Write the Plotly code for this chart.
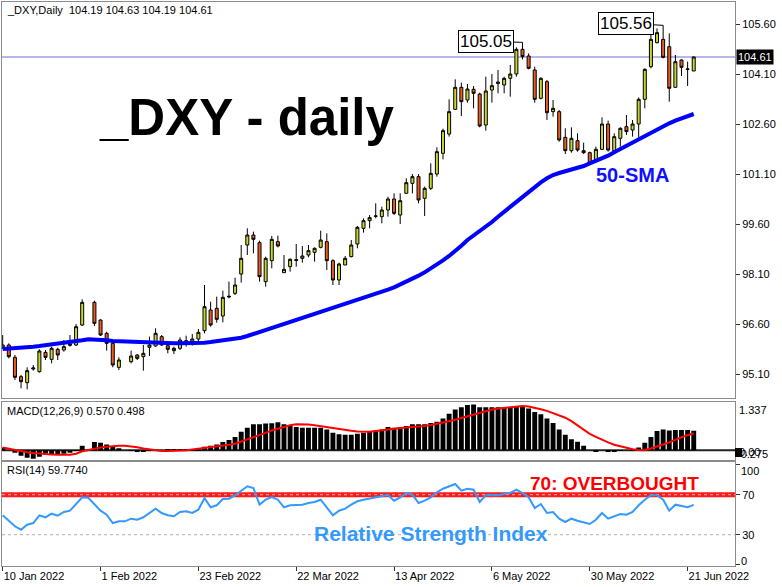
import plotly.graph_objects as go
from plotly.subplots import make_subplots

# ---------------- data ----------------
date_labels = ["10 Jan 2022", "1 Feb 2022", "23 Feb 2022", "22 Mar 2022",
               "13 Apr 2022", "6 May 2022", "30 May 2022", "21 Jun 2022"]
label_bars = [0, 16, 32, 48, 64, 80, 96, 112]

opens = [95.90, 95.97, 95.60, 95.02, 94.84, 95.25, 95.17, 95.75, 95.54, 95.84,
         95.82, 95.96, 95.97, 96.57, None, 97.25, 96.72, 96.32, 96.02, 95.30,
         None, 95.47, 95.67, 95.62, 95.90, 95.94, 96.22, 95.95, 95.80, 95.87,
         96.10, 96.00, 96.15, 96.40, 97.02, 97.07, 96.84, 97.41, 97.52, 98.10,
         98.97, 99.27, 99.04, 97.87, 98.50, 99.07, 98.14, 98.32, 98.53, 98.57,
         98.67, 98.75, 98.90, 99.07, 98.50, 97.92, 98.37, 98.62, 99.00, 99.47,
         99.70, 99.83, 99.82, 100.02, 100.35, 99.87, 100.52, 100.82, 101.02, 100.37,
         100.67, 101.10, 101.72, 102.30, 103.04, 103.70, 103.32, 103.64, 103.50, 102.57,
         103.62, 103.86, 103.77, 103.97, 104.10, 104.84, 104.64, 104.22, 103.37, 103.87,
         102.97, 102.97, 102.20, 101.80, 102.10, 101.80, 101.74, 101.50, 101.84, 102.60,
         101.80, 102.17, 102.52, 102.42, 102.60, 103.34, 104.32, 105.04, 105.14, 104.92,
         103.70, 104.52, 104.24, 104.19]
highs = [96.27, 96.02, 95.67, 95.07, 95.30, 95.37, 95.84, 95.82, 95.92, 95.89,
         96.12, 96.27, 96.60, 97.34, None, 97.30, 96.74, 96.37, 96.12, 95.60,
         None, 95.80, 95.70, 95.97, 96.22, 96.47, 96.27, 96.00, 95.92, 96.20,
         96.25, 96.30, 96.45, 97.77, 97.27, 97.42, 97.60, 97.87, 97.99, 98.97,
         99.47, 99.37, 99.10, 98.62, 99.24, 99.25, 98.67, 98.57, 99.00, 98.94,
         98.97, 98.90, 99.40, 99.32, 98.54, 98.44, 98.64, 99.12, 99.54, 99.77,
         99.87, 100.22, 100.12, 100.42, 100.52, 100.52, 100.97, 101.10, 101.10, 100.72,
         101.42, 101.90, 102.46, 103.34, 103.94, 103.84, 103.80, 103.74, 103.54, 104.02,
         104.10, 104.22, 104.02, 104.37, 104.90, 105.05, 104.72, 104.32, 104.00, 103.92,
         103.32, 103.02, 102.47, 102.50, 102.32, 102.04, 101.77, 101.92, 102.80, 102.70,
         102.32, 102.50, 102.87, 102.72, 103.40, 104.27, 105.42, 105.47, 105.56, 105.32,
         104.67, 104.54, 104.47, 104.63]
lows = [95.85, 95.57, 94.92, 94.67, 94.64, 95.20, 95.14, 95.52, 95.42, 95.52,
        95.77, 95.92, 95.94, 96.54, None, 96.54, 96.24, 95.80, 95.30, 95.22,
        None, 95.42, 95.52, 95.20, 95.64, 95.92, 95.94, 95.72, 95.70, 95.82,
        95.92, 95.95, 96.05, 96.32, 96.52, 96.64, 96.65, 97.37, 97.47, 97.84,
        98.67, 98.72, 97.87, 97.72, 98.27, 98.90, 98.14, 98.17, 98.32, 98.44,
        98.60, 98.47, 98.87, 98.22, 97.77, 97.77, 98.37, 98.60, 98.87, 99.34,
        99.47, 99.77, 99.62, 99.82, 99.87, 99.60, 100.52, 100.52, 100.22, 99.84,
        100.62, 101.02, 101.54, 102.22, 103.02, 102.84, 103.24, 103.07, 102.50, 102.40,
        103.24, 103.52, 103.52, 103.42, 104.02, 104.54, 104.24, 103.24, 103.34, 102.72,
        102.82, 102.07, 101.70, 101.74, 101.77, 101.70, 101.40, 101.47, 101.82, 101.77,
        101.72, 101.92, 102.27, 102.22, 102.20, 103.07, 104.27, 105.02, 104.57, 103.27,
        103.70, 104.04, 103.74, 104.19]
closes = [95.97, 95.62, 95.00, 94.87, 95.20, 95.28, 95.79, 95.60, 95.87, 95.67,
          95.92, 96.00, 96.52, 97.25, None, 96.62, 96.27, 96.02, 95.37, 95.52,
          None, 95.64, 95.57, 95.72, 95.97, 96.32, 95.97, 95.84, 95.87, 96.12,
          96.00, 96.15, 96.35, 97.12, 96.57, 96.74, 97.40, 97.43, 97.77, 98.57,
          99.27, 99.14, 98.02, 98.57, 99.14, 98.94, 98.24, 98.54, 98.51, 98.64,
          98.80, 98.87, 99.12, 98.50, 97.92, 98.40, 98.57, 98.97, 99.50, 99.70,
          99.79, 99.84, 100.02, 100.35, 99.92, 100.30, 100.84, 101.02, 100.32, 100.67,
          101.12, 101.77, 102.40, 102.97, 103.70, 103.27, 103.65, 103.52, 102.54, 103.59,
          103.75, 103.82, 103.97, 104.10, 104.84, 104.62, 104.27, 103.34, 103.97, 102.94,
          103.07, 102.12, 101.80, 102.17, 101.82, 101.74, 101.42, 101.84, 102.60, 101.82,
          102.22, 102.47, 102.37, 102.60, 103.34, 104.24, 105.14, 105.34, 104.60, 103.67,
          104.47, 104.30, 104.25, 104.61]

sma50 = [95.85, 95.86, 95.88, 95.89, 95.90, 95.92, 95.94, 95.96, 95.98, 96.00,
         96.02, 96.05, 96.08, 96.11, 96.14, 96.14, 96.12, 96.11, 96.09, 96.08,
         96.07, 96.06, 96.06, 96.05, 96.04, 96.04, 96.03, 96.03, 96.02, 96.02,
         96.02, 96.02, 96.03, 96.04, 96.06, 96.08, 96.10, 96.12, 96.15, 96.19,
         96.24, 96.30, 96.36, 96.42, 96.49, 96.55, 96.61, 96.66, 96.71, 96.76,
         96.83, 96.90, 96.97, 97.02, 97.07, 97.12, 97.18, 97.24, 97.31, 97.37,
         97.43, 97.50, 97.57, 97.63, 97.70, 97.78, 97.87, 97.96, 98.05, 98.15,
         98.26, 98.38, 98.51, 98.64, 98.78, 98.95, 99.12, 99.25, 99.38, 99.52,
         99.66, 99.82, 99.97, 100.12, 100.27, 100.42, 100.58, 100.72, 100.85, 100.97,
         101.07, 101.13, 101.18, 101.22, 101.28, 101.34, 101.42, 101.49, 101.57, 101.65,
         101.75, 101.85, 101.95, 102.05, 102.15, 102.25, 102.35, 102.45, 102.53, 102.62,
         102.70, 102.77, 102.84, 102.90]

macd_hist = [0.08, 0.00, -0.07, -0.16, -0.22, -0.25, -0.19, -0.14, -0.12, -0.12,
             -0.10, -0.07, -0.02, 0.13, None, 0.24, 0.22, 0.17, 0.10, 0.06,
             None, -0.02, -0.04, -0.04, -0.02, 0.00, 0.00, 0.01, 0.01, 0.01,
             0.02, 0.02, 0.03, 0.10, 0.13, 0.17, 0.24, 0.30, 0.39, 0.54,
             0.66, 0.76, 0.76, 0.78, 0.79, 0.82, 0.76, 0.71, 0.68, 0.66,
             0.66, 0.66, 0.66, 0.61, 0.51, 0.47, 0.45, 0.45, 0.48, 0.51,
             0.54, 0.58, 0.61, 0.68, 0.66, 0.68, 0.71, 0.76, 0.76, 0.76,
             0.80, 0.83, 0.93, 1.07, 1.19, 1.26, 1.32, 1.337, 1.26, 1.26,
             1.26, 1.26, 1.26, 1.26, 1.29, 1.29, 1.22, 1.12, 1.05, 0.93,
             0.80, 0.61, 0.45, 0.32, 0.25, 0.13, 0.00, -0.04, 0.00, -0.05,
             -0.05, -0.02, 0.00, 0.01, 0.08, 0.22, 0.39, 0.56, 0.61, 0.58,
             0.59, 0.59, 0.59, 0.57]
macd_signal = [0.08, 0.04, 0.01, -0.03, -0.06, -0.08, -0.10, -0.11, -0.12, -0.13,
               -0.14, -0.13, -0.10, -0.03, 0.01, 0.05, 0.08, 0.10, 0.12, 0.13,
               0.13, 0.12, 0.09, 0.05, 0.02, 0.00, -0.02, -0.02, -0.02, -0.02,
               0.00, 0.02, 0.04, 0.06, 0.08, 0.11, 0.13, 0.16, 0.19, 0.25,
               0.31, 0.38, 0.45, 0.51, 0.58, 0.63, 0.69, 0.73, 0.76, 0.76,
               0.75, 0.73, 0.70, 0.68, 0.65, 0.61, 0.59, 0.57, 0.55, 0.54,
               0.54, 0.56, 0.59, 0.61, 0.63, 0.65, 0.66, 0.67, 0.68, 0.71,
               0.74, 0.77, 0.81, 0.85, 0.89, 0.94, 1.00, 1.06, 1.10, 1.15,
               1.19, 1.22, 1.24, 1.27, 1.28, 1.29, 1.28, 1.25, 1.20, 1.15,
               1.09, 1.03, 0.95, 0.85, 0.72, 0.59, 0.48, 0.39, 0.30, 0.23,
               0.16, 0.11, 0.06, 0.03, 0.01, 0.00, 0.05, 0.10, 0.17, 0.23,
               0.31, 0.38, 0.44, 0.498]

rsi14 = [49.4, 44.0, 38.4, 35.0, 40.0, 41.7, 49.4, 47.4, 51.0, 49.0,
         52.7, 54.0, 60.7, 67.4, 67.0, 60.0, 54.0, 50.0, 41.7, 43.4,
         43.4, 46.0, 45.0, 47.4, 51.7, 56.0, 51.7, 49.4, 48.4, 52.7,
         53.4, 51.7, 55.0, 66.7, 57.4, 59.4, 65.7, 66.0, 69.4, 74.0,
         78.4, 76.7, 60.0, 65.0, 67.7, 65.0, 57.4, 59.4, 59.4, 60.0,
         61.7, 62.7, 65.0, 56.7, 49.4, 54.0, 56.0, 60.0, 63.4, 65.0,
         66.0, 67.4, 68.4, 69.7, 64.0, 67.4, 71.7, 70.0, 61.7, 64.0,
         67.4, 72.4, 76.0, 78.4, 80.7, 74.0, 76.0, 75.0, 62.7, 69.4,
         69.4, 69.4, 70.7, 71.7, 75.0, 71.7, 67.4, 56.7, 60.7, 51.7,
         52.7, 46.0, 42.7, 46.0, 44.0, 42.7, 40.7, 45.0, 51.7, 46.0,
         48.4, 50.7, 50.0, 52.7, 59.4, 65.0, 69.4, 69.4, 65.0, 54.0,
         60.0, 58.4, 57.4, 59.774]

price_ticks = [95.10, 96.60, 98.10, 99.60, 101.10, 102.60, 104.10, 105.60]
macd_max, macd_min = 1.337, -0.275
rsi_ticks = [100, 70, 30, 0]
rsi_levels = [70, 30]

# ---------------- figure ----------------
FONT = "Liberation Sans"
n = len(opens)
bars = list(range(n))
valid = [i for i in bars if opens[i] is not None]
hist_valid = [i for i in bars if macd_hist[i] is not None]

fig = make_subplots(rows=3, cols=1, shared_xaxes=True, vertical_spacing=0.01)

fig.add_trace(go.Candlestick(
    x=valid,
    open=[opens[i] for i in valid], high=[highs[i] for i in valid],
    low=[lows[i] for i in valid], close=[closes[i] for i in valid],
    increasing=dict(line=dict(color="#000000", width=1), fillcolor="#c9d62e"),
    decreasing=dict(line=dict(color="#000000", width=1), fillcolor="#ec5b1f"),
    showlegend=False, hoverinfo="skip"), row=1, col=1)
fig.add_trace(go.Scatter(x=bars, y=sma50, mode="lines",
                         line=dict(color="#0000ff", width=4),
                         showlegend=False, hoverinfo="skip"), row=1, col=1)

fig.add_trace(go.Bar(x=hist_valid, y=[macd_hist[i] for i in hist_valid],
                     marker=dict(color="#000000", line=dict(width=0)),
                     showlegend=False, hoverinfo="skip"), row=2, col=1)
fig.add_trace(go.Scatter(x=bars, y=macd_signal, mode="lines",
                         line=dict(color="#ff0000", width=2),
                         showlegend=False, hoverinfo="skip"), row=2, col=1)

fig.add_trace(go.Scatter(x=bars, y=rsi14, mode="lines",
                         line=dict(color="#3399ff", width=2),
                         showlegend=False, hoverinfo="skip"), row=3, col=1)

# plot area: x 2..735 px, y 2..566 px
W, H = 782, 587
L, R, T, B = 2, 47, 2, 21
pw, ph = W - L - R, H - T - B


def px_x(p):
    return (p - L) / pw


def px_y(p):
    return (H - B - p) / ph


xr = [-0.114, 119.75]
line_col = "#8c8c8c"
common_x = dict(range=xr, showline=True, linecolor=line_col, linewidth=1, mirror=True,
                showgrid=False, zeroline=False)
fig.update_xaxes(**common_x)
fig.update_layout(xaxis_rangeslider_visible=False)
fig.update_xaxes(showticklabels=False, ticks="", row=1, col=1)
fig.update_xaxes(showticklabels=False, ticks="", row=2, col=1)
fig.update_xaxes(tickvals=label_bars, ticktext=date_labels, ticks="outside", ticklen=4,
                 tickcolor="#333333", ticklabelposition="outside right",
                 tickfont=dict(family=FONT, size=11, color="#000000"), row=3, col=1)

common_y = dict(side="right", showline=True, linecolor=line_col, linewidth=1, mirror=True,
                showgrid=False, zeroline=False, ticks="outside", ticklen=4,
                tickcolor="#333333", tickfont=dict(family=FONT, size=11, color="#000000"))
fig.update_yaxes(**common_y)
fig.update_yaxes(range=[94.38, 106.26], tickvals=price_ticks,
                 ticktext=[f"{v:.2f}" for v in price_ticks], row=1, col=1)
fig.update_yaxes(range=[macd_min, 1.41], showticklabels=False, ticks="", row=2, col=1)
fig.update_yaxes(range=[-1.3, 102.7], tickvals=rsi_ticks,
                 ticktext=["" if v in (0, 100) else str(v) for v in rsi_ticks], row=3, col=1)

fig.update_layout(
    width=W, height=H,
    margin=dict(l=L, r=R, t=T, b=B),
    paper_bgcolor="#ffffff", plot_bgcolor="#ffffff",
    showlegend=False, bargap=0.2,
    font=dict(family=FONT, size=11, color="#000000"),
    yaxis=dict(domain=[px_y(398), 1.0]),
    yaxis2=dict(domain=[px_y(459.7), px_y(402)]),
    yaxis3=dict(domain=[0.0, px_y(462)]),
)

last_close = closes[-1]
shapes = [
    # last price line
    dict(type="line", xref="x domain", yref="y", x0=0, x1=1, y0=last_close, y1=last_close,
         line=dict(color="#6f6fd6", width=1), layer="below"),
    # MACD zero line
    dict(type="line", xref="x2 domain", yref="y2", x0=0, x1=1, y0=0, y1=0,
         line=dict(color="#222222", width=2), layer="below"),
    # small black value tag on MACD axis
    dict(type="rect", xref="paper", yref="paper", x0=1.0, x1=px_x(742), y0=px_y(457), y1=px_y(448),
         fillcolor="#000000", line=dict(width=0), layer="above"),
    # RSI 30 dotted
    dict(type="line", xref="x3 domain", yref="y3", x0=0, x1=1, y0=rsi_levels[1], y1=rsi_levels[1],
         line=dict(color="#b0b0b0", width=1, dash="dot"), layer="below"),
    # RSI 70 thick red
    dict(type="line", xref="x3 domain", yref="y3", x0=0, x1=1, y0=rsi_levels[0], y1=rsi_levels[0],
         line=dict(color="#ff1a1a", width=5), layer="below"),
    dict(type="line", xref="x3 domain", yref="y3", x0=0, x1=1, y0=rsi_levels[0], y1=rsi_levels[0],
         line=dict(color="#ffb4b4", width=1, dash="dot"), layer="below"),
]
fig.update_layout(shapes=shapes)

# peak call-outs
valid_highs = [(highs[i], i) for i in valid]
peak2_val, peak2_i = max(valid_highs)
peak1_val, peak1_i = max((h, i) for h, i in valid_highs if i < 95)

axis_font = dict(family=FONT, size=11, color="#000000")
annotations = [
    dict(xref="paper", yref="paper", x=px_x(5), y=px_y(10), xanchor="left", yanchor="middle",
         text=f"_DXY,Daily  {opens[-1]:.2f} {highs[-1]:.2f} {lows[-1]:.2f} {closes[-1]:.2f}",
         showarrow=False, font=axis_font),
    dict(xref="paper", yref="paper", x=px_x(5), y=px_y(411), xanchor="left", yanchor="middle",
         text=f"MACD(12,26,9) {macd_hist[-1]:.3f} {macd_signal[-1]:.3f}",
         showarrow=False, font=axis_font),
    dict(xref="paper", yref="paper", x=px_x(5), y=px_y(470), xanchor="left", yanchor="middle",
         text=f"RSI(14) {rsi14[-1]:.4f}",
         showarrow=False, font=axis_font),
    # MACD / RSI scale labels (MT4 draws the extreme ones inside the window)
    dict(xref="paper", yref="y2", x=1.0, y=macd_max, xanchor="left", yanchor="middle",
         xshift=2, yshift=-5, text=f"{macd_max:.3f}", showarrow=False, font=axis_font),
    dict(xref="paper", yref="y2", x=1.0, y=0, xanchor="left", yanchor="middle",
         xshift=2, yshift=-2, text="0.00", showarrow=False, font=axis_font),
    dict(xref="paper", yref="y2", x=1.0, y=macd_min, xanchor="left", yanchor="middle",
         xshift=0, yshift=6, text=f"{macd_min:.3f}", showarrow=False, font=axis_font),
    dict(xref="paper", yref="y3", x=1.0, y=100, xanchor="left", yanchor="middle",
         xshift=4, yshift=-6, text="100", showarrow=False, font=axis_font),
    dict(xref="paper", yref="y3", x=1.0, y=0, xanchor="left", yanchor="middle",
         xshift=4, yshift=4, text="0", showarrow=False, font=axis_font),
    # big texts
    dict(xref="paper", yref="paper", x=px_x(246.5), y=px_y(117), xanchor="center", yanchor="middle",
         text="<b>_DXY - daily</b>", showarrow=False,
         font=dict(family=FONT, size=51, color="#000000")),
    dict(xref="paper", yref="paper", x=px_x(632.5), y=px_y(175), xanchor="center", yanchor="middle",
         text="<b>50-SMA</b>", showarrow=False,
         font=dict(family=FONT, size=20, color="#1010ff")),
    dict(xref="paper", yref="paper", x=px_x(614.5), y=px_y(483), xanchor="center", yanchor="middle",
         text="<b>70: OVERBOUGHT</b>", showarrow=False,
         font=dict(family=FONT, size=19, color="#ff0000")),
    dict(xref="paper", yref="paper", x=px_x(430.5), y=px_y(533), xanchor="center", yanchor="middle",
         text="<b>Relative Strength Index</b>", showarrow=False,
         font=dict(family=FONT, size=21, color="#3399ff")),
    # last price tag
    dict(xref="paper", yref="y", x=1.0, y=last_close, xanchor="left", yanchor="middle",
         xshift=1, text=f"{last_close:.2f}", showarrow=False, bgcolor="#000000",
         borderpad=1, font=dict(family=FONT, size=11, color="#ffffff")),
    # peak labels
    dict(xref="x", yref="y", x=peak1_i, y=peak1_val, text=f"{peak1_val:.2f}",
         showarrow=True, arrowhead=0, arrowwidth=1, arrowcolor="#000000", ax=-36, ay=-1,
         bgcolor="#ffffff", bordercolor="#000000", borderwidth=1, borderpad=1,
         font=dict(family=FONT, size=17, color="#000000")),
    dict(xref="x", yref="y", x=peak2_i, y=peak2_val, text=f"{peak2_val:.2f}",
         showarrow=True, arrowhead=0, arrowwidth=1, arrowcolor="#000000", ax=-37, ay=-2,
         bgcolor="#ffffff", bordercolor="#000000", borderwidth=1, borderpad=1,
         font=dict(family=FONT, size=17, color="#000000")),
]
fig.update_layout(annotations=annotations)

fig.write_html("out.html", config={"displayModeBar": False},
               post_script="document.body.style.margin='0';document.body.style.overflow='hidden';")
